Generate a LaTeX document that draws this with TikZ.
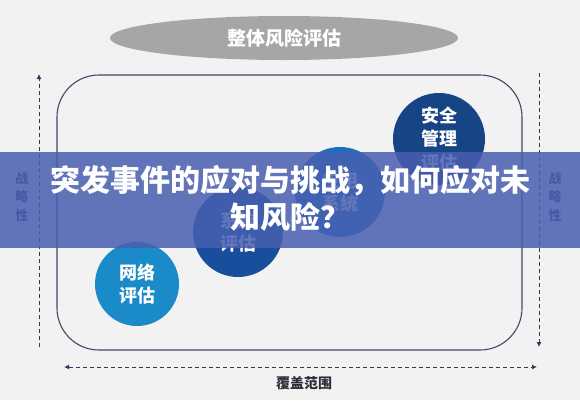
\documentclass[tikz,border=0pt]{standalone}
\usepackage{fontspec}
\newfontfamily\cjk{Noto Sans CJK SC}
\usetikzlibrary{arrows.meta,shapes.geometric}
\definecolor{bg}{RGB}{242,242,242}
\definecolor{ellgray}{RGB}{166,166,166}
\definecolor{frameC}{RGB}{62,74,104}
\definecolor{axisC}{RGB}{43,58,92}
\definecolor{labelC}{RGB}{45,63,115}
\definecolor{cOne}{RGB}{27,138,200}
\definecolor{cTwo}{RGB}{24,78,155}
\definecolor{cThree}{RGB}{30,112,190}
\definecolor{cFour}{RGB}{22,68,132}
\definecolor{bandC}{RGB}{72,95,176}
\definecolor{rangeC}{RGB}{45,45,55}
\begin{document}
\begin{tikzpicture}[x=1pt,y=-1pt,
  axis/.style={draw=axisC, line width=1pt, dash pattern=on 4pt off 3pt},
  tip/.style={-{Latex[length=5pt,width=5pt]}},
  bubble/.style={circle, inner sep=0pt, text=white, align=center,
     font=\cjk\bfseries\fontsize{18}{23}\selectfont},
  sidelabel/.style={text=labelC, align=center, inner sep=0pt,
     font=\cjk\bfseries\fontsize{13}{18.5}\selectfont},
  titletext/.style={text=white, inner sep=0pt,
     font=\cjk\bfseries\fontsize{30}{36}\selectfont}]
\fill[bg] (0,0) rectangle (580,400);
\useasboundingbox (0,0) rectangle (580,400);

% top ellipse
\node[ellipse, fill=ellgray, minimum width=348pt, minimum height=44pt, inner sep=0pt,
      text=white, font=\cjk\bfseries\fontsize{19}{22}\selectfont] (whole) at (284,38) {整体风险评估};

% frame
\draw[frameC, line width=1.1pt, rounded corners=42pt] (57,75) rectangle (522,350);

% axes
\coordinate (lb) at (39,347);
\coordinate (lt) at (39,74);
\coordinate (rt) at (539,73);
\coordinate (rb) at (539,347);
\coordinate (bl) at (64,367);
\coordinate (br) at (537,367);
\draw[axis, tip] (lb) -- (lt);
\draw[axis, tip] (rt) -- (rb);
\draw[axis, {Latex[length=5pt,width=5pt]}-{Latex[length=5pt,width=5pt]}] (bl) -- (br);

% side labels
\node[sidelabel] (leftlab) at (22,197) {战\\略\\性};
\node[sidelabel] (rightlab) at (555,197) {战\\略\\性};
\node[text=rangeC, inner sep=0pt, font=\cjk\bfseries\fontsize{14}{16}\selectfont] (range) at (304,383) {覆盖范围};

% bubbles
\node[bubble, fill=cOne, minimum size=84pt] (net) at (137,284) {网络\\评估};
\node[bubble, fill=cTwo, minimum size=90pt] (sys) at (238,232) {系统\\评估};
\node[bubble, fill=cThree, minimum size=90pt] (app) at (340,192) {应用\\系统};
\node[bubble, fill=cFour, minimum size=92pt, font=\cjk\bfseries\fontsize{18}{23.5}\selectfont] (safe) at (439,139) {安全\\管理\\评估};

% band
\fill[bandC, opacity=0.85] (0,152) rectangle (580,248);

% title
\node[titletext] (title1) at (290,181) {突发事件的应对与挑战，如何应对未};
\node[titletext] (title2) at (290,217) {知风险？};
\end{tikzpicture}
\end{document}
